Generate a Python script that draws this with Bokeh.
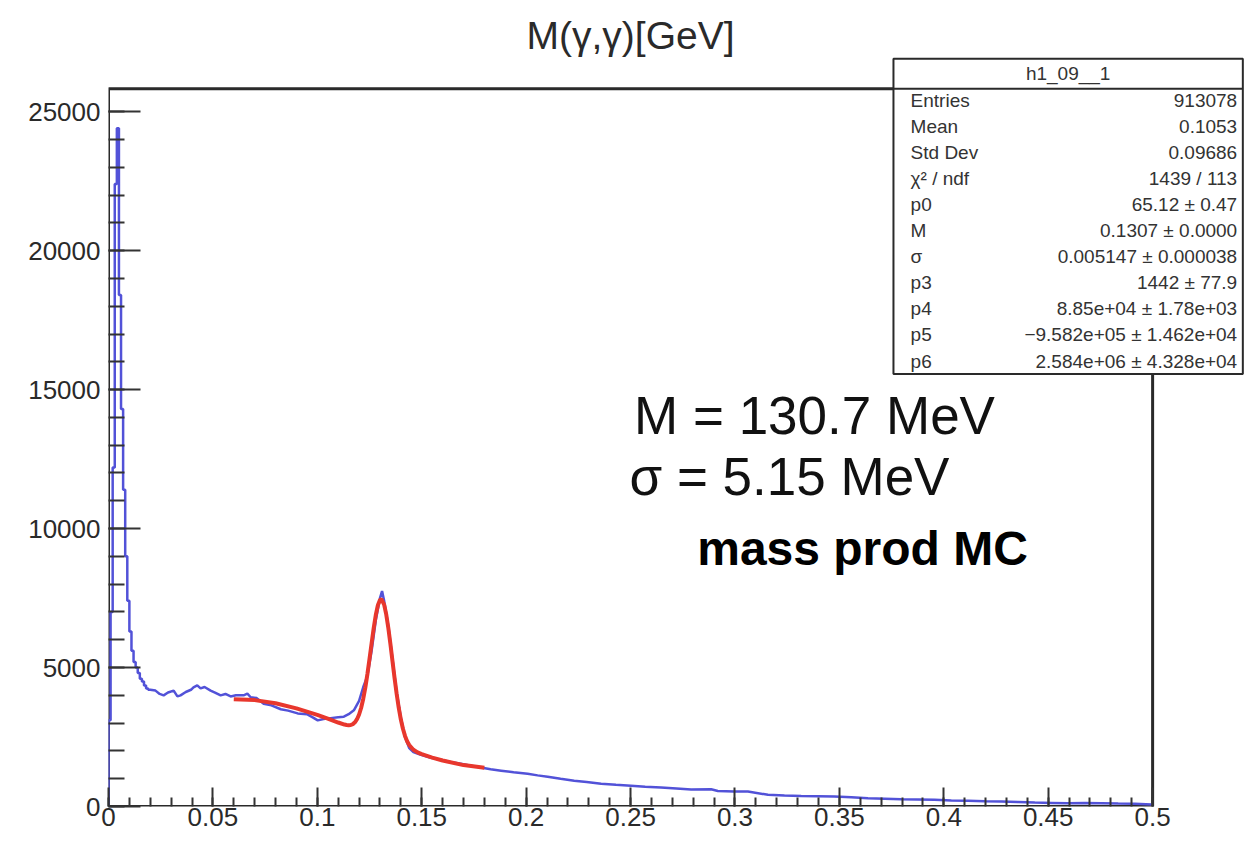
from bokeh.plotting import figure
from bokeh.models import Range1d, FixedTicker, Label
from bokeh.embed import file_html
from bokeh.resources import INLINE

# ---------------- data ----------------
spike_bin_width = 0.001
spike_counts = [3100, 7000, 12200, 22400, 24400, 18400, 14300, 11400, 9000, 7400,
                6300, 5600, 5200, 5000, 4800, 4600, 4500, 4350, 4250, 4200]

hist_mass = [0.0225, 0.0245, 0.0264, 0.0285, 0.0312, 0.033, 0.0345, 0.037, 0.0395, 0.0407,
             0.0425, 0.0441, 0.046, 0.0489, 0.051, 0.0537, 0.056, 0.0585, 0.061, 0.0647,
             0.0665, 0.0681, 0.071, 0.0743, 0.078, 0.0825, 0.086, 0.0906, 0.095, 0.098,
             0.1002, 0.103, 0.1064, 0.11, 0.1127, 0.115, 0.1175, 0.12, 0.122, 0.124,
             0.126, 0.128, 0.13, 0.131, 0.132, 0.134, 0.136, 0.138, 0.14, 0.142,
             0.144, 0.146, 0.1496, 0.154, 0.159, 0.1637, 0.1687, 0.1735, 0.1783, 0.183,
             0.188, 0.194, 0.2007, 0.2055, 0.2103, 0.2165, 0.223, 0.229, 0.2359, 0.243,
             0.2502, 0.257, 0.2646, 0.272, 0.279, 0.2886, 0.2918, 0.2996, 0.3062, 0.3158,
             0.3237, 0.3317, 0.3397, 0.3477, 0.3557, 0.3637, 0.3717, 0.3797, 0.3876, 0.3956,
             0.4036, 0.4116, 0.4196, 0.4276, 0.4356, 0.4436, 0.4516, 0.4596, 0.4675, 0.4755,
             0.4835, 0.4915, 0.4995]
hist_counts = [4170, 4050, 4000, 4100, 4170, 3960, 4000, 4120, 4200, 4290,
               4360, 4250, 4300, 4170, 4100, 4000, 4050, 3960, 4000, 4000,
               4060, 3930, 3900, 3700, 3640, 3500, 3450, 3350, 3320, 3200,
               3100, 3150, 3180, 3210, 3230, 3320, 3460, 3800, 4300, 4700,
               5600, 6700, 7500, 7750, 7400, 6500, 5300, 4100, 3200, 2500,
               2100, 1960, 1860, 1760, 1680, 1600, 1540, 1470, 1400, 1340,
               1290, 1230, 1180, 1120, 1070, 1000, 930, 880, 820, 780,
               750, 710, 680, 650, 610, 620, 560, 540, 540, 420,
               400, 380, 370, 360, 330, 300, 280, 260, 250, 240,
               220, 210, 190, 180, 160, 140, 130, 120, 125, 120,
               105, 100, 70]

fit_mass = [0.06, 0.07, 0.08, 0.09, 0.10, 0.105, 0.11, 0.113, 0.114, 0.115,
            0.116, 0.117, 0.118, 0.119, 0.12, 0.121, 0.122, 0.123, 0.124, 0.125,
            0.126, 0.127, 0.128, 0.129, 0.13, 0.1307, 0.132, 0.133, 0.134, 0.135,
            0.136, 0.137, 0.138, 0.139, 0.14, 0.141, 0.142, 0.143, 0.144, 0.146,
            0.148, 0.15, 0.155, 0.16, 0.17, 0.18]
fit_counts = [3861, 3828, 3713, 3529, 3294, 3162, 3022, 2949, 2932, 2925,
              2933, 2964, 3029, 3140, 3311, 3554, 3879, 4288, 4773, 5313,
              5876, 6418, 6889, 7240, 7432, 7458, 7261, 6910, 6423, 5845,
              5226, 4613, 4045, 3546, 3128, 2796, 2540, 2350, 2212, 2041,
              1946, 1883, 1761, 1656, 1490, 1396]

x_tick_labels = ["0", "0.05", "0.1", "0.15", "0.2", "0.25", "0.3", "0.35", "0.4", "0.45", "0.5"]
y_tick_values = [0, 5000, 10000, 15000, 20000, 25000]

stats_title = "h1_09__1"
stats_names = ["Entries", "Mean", "Std Dev", "\u03c7\u00b2 / ndf", "p0", "M", "\u03c3",
               "p3", "p4", "p5", "p6"]
stats_values = ["913078", "0.1053", "0.09686", "1439 / 113", "65.12 \u00b1 0.47",
                "0.1307 \u00b1 0.0000", "0.005147 \u00b1 0.000038", "1442 \u00b1 77.9",
                "8.85e+04 \u00b1 1.78e+03", "\u22129.582e+05 \u00b1 1.462e+04",
                "2.584e+06 \u00b1 4.328e+04"]

# ---------------- build histogram outline ----------------
blue_x = [0.0]
blue_y = [0]
for i, c in enumerate(spike_counts):
    lo = i * spike_bin_width
    blue_x += [lo, lo + spike_bin_width]
    blue_y += [c, c]
blue_x += hist_mass
blue_y += hist_counts

# ---------------- figure ----------------
FONT = "Liberation Sans"
x_hist_max = 0.5
y_frame_top = 25826
K = 36.02  # counts per pixel, used only to place annotation texts


def ypix(py):
    return (805 - py) * K


p = figure(width=1244, height=834, output_backend="svg", toolbar_location=None,
           x_range=Range1d(0, 0.544), y_range=Range1d(0, 29000),
           min_border_left=108, min_border_right=0, min_border_top=0, min_border_bottom=28)
p.outline_line_color = None
p.xgrid.grid_line_color = None
p.ygrid.grid_line_color = None
p.background_fill_color = "white"
p.border_fill_color = "white"

# axes
x_ticks = [float(s) for s in x_tick_labels]
p.xaxis.ticker = FixedTicker(ticks=x_ticks, minor_ticks=[i / 100 for i in range(0, 51)])
p.xaxis.major_label_overrides = {t: s for t, s in zip(x_ticks, x_tick_labels)}
p.yaxis.ticker = FixedTicker(ticks=y_tick_values, minor_ticks=list(range(0, 25001, 1000)))
for ax, maj, mnr in ((p.xaxis, 19, 9), (p.yaxis, 32, 16)):
    ax.axis_line_color = None
    ax.major_tick_in = maj
    ax.major_tick_out = 0
    ax.minor_tick_in = mnr
    ax.minor_tick_out = 0
    ax.major_tick_line_color = "#333333"
    ax.minor_tick_line_color = "#333333"
    ax.major_tick_line_width = 2
    ax.minor_tick_line_width = 2
    ax.major_label_text_font = FONT
    ax.major_label_text_font_size = "26px"
    ax.major_label_text_color = "#2a2a2a"
p.xaxis.major_label_standoff = 1
p.yaxis.major_label_standoff = 8

# histogram frame (ROOT pad frame)
p.quad(left=[0], right=[x_hist_max], bottom=[0], top=[y_frame_top],
       fill_color=None, line_color="#2a2a2a", line_width=3)

# data
p.line(blue_x, blue_y, line_color="#5252d8", line_width=2.5)
p.line(fit_mass, fit_counts, line_color="#e8372d", line_width=4)

# title
p.add_layout(Label(x=0.25, y=ypix(35), text="M(\u03b3,\u03b3)[GeV]", text_font=FONT,
                   text_font_size="39px", text_align="center", text_baseline="middle",
                   text_color="#2a2a2a"))

# stats box
box_l, box_r = 0.3759, 0.5432
box_t, box_b = ypix(58), ypix(373)
p.quad(left=[box_l], right=[box_r], bottom=[box_b], top=[box_t],
       fill_color="white", line_color="#2a2a2a", line_width=2)
p.segment(x0=[box_l], y0=[y_frame_top], x1=[box_r], y1=[y_frame_top],
          line_color="#2a2a2a", line_width=2)
p.add_layout(Label(x=(box_l + box_r) / 2, y=ypix(73), text=stats_title, text_font=FONT,
                   text_font_size="19px", text_align="center", text_baseline="middle",
                   text_color="#333333"))
for i, (nm, vl) in enumerate(zip(stats_names, stats_values)):
    yy = ypix(100 + 26 * i)
    p.add_layout(Label(x=0.3841, y=yy, text=nm, text_font=FONT, text_font_size="19px",
                       text_align="left", text_baseline="middle", text_color="#333333"))
    p.add_layout(Label(x=0.5405, y=yy, text=vl, text_font=FONT, text_font_size="19px",
                       text_align="right", text_baseline="middle", text_color="#333333"))

# overlay texts
p.add_layout(Label(x=0.3381, y=ypix(414), text="M = 130.7 MeV", text_font=FONT,
                   text_font_size="53px", text_align="center", text_baseline="middle",
                   text_color="#111111"))
p.add_layout(Label(x=0.3261, y=ypix(475), text="\u03c3 = 5.15 MeV", text_font=FONT,
                   text_font_size="53px", text_align="center", text_baseline="middle",
                   text_color="#111111"))
p.add_layout(Label(x=0.3611, y=ypix(547), text="mass prod MC", text_font=FONT,
                   text_font_size="48px", text_font_style="bold", text_align="center",
                   text_baseline="middle", text_color="#000000"))

open("out.html", "w").write(file_html(p, INLINE))
